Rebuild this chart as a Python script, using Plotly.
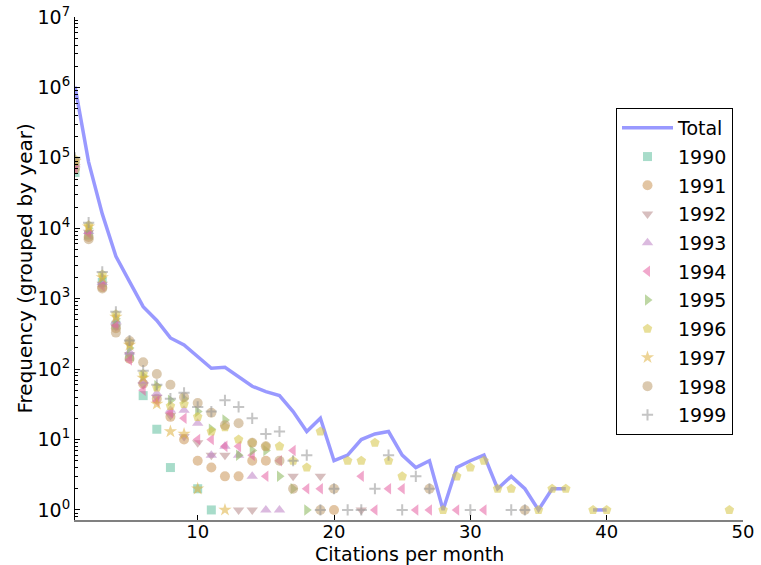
import plotly.graph_objects as go
import math

# ---------------- data ----------------
years = ["1990", "1991", "1992", "1993", "1994", "1995", "1996", "1997", "1998", "1999"]

total_x = list(range(1, 50))
total_y = [1030000, 87000, 16000, 4000, 1750, 770, 490, 277, 220, 150,
           103, 106, 77, 57, 48, 42, 25, 13, 20, 5,
           6, 10, 12, 13, 6, 4, 5, 1, 4, 5,
           6, 2, 3, 2, 1, 2, 2, None, 1, 1,
           None, None, None, None, None, None, None, None, 1]

x_1990 = [1, 2, 3, 4, 5, 6, 7, 8, 10, 11]
y_1990 = [62000, 8000, 1700, 420, 150, 42, 14, 4, 2, 1]

x_1991 = [1, 2, 3, 4, 5, 6, 7, 8, 9, 10, 11, 12, 13, 14, 15, 20]
y_1991 = [70000, 7500, 1450, 380, 140, 62, 38, 21, 10, 5, 4, 3, 3, 5, 5, 1]

x_1992 = [1, 2, 3, 4, 5, 6, 7, 8, 9, 10, 11, 12, 13, 14, 17, 19, 22]
y_1992 = [75000, 8800, 1600, 400, 160, 60, 40, 22, 11, 9, 6, 6, 1, 1, 3, 3, 1]

x_1993 = [1, 2, 3, 4, 5, 6, 7, 8, 9, 10, 11, 12, 13, 14, 15, 16]
y_1993 = [80000, 9000, 1700, 480, 175, 68, 45, 26, 26, 17, 6, 8, 6, 3, 1, 1]

x_1994 = [1, 2, 3, 4, 5, 6, 7, 8, 9, 10, 11, 12, 13, 14, 15, 16, 17, 18, 19,
          22, 23, 24, 25, 26, 27, 29, 31]
y_1994 = [72000, 8500, 1500, 420, 135, 50, 35, 24, 20, 10, 10, 8, 8, 6, 3, 5, 7, 2, 2,
          3, 1, 2, 2, 1, 1, 1, 1]

x_1995 = [1, 2, 3, 4, 5, 6, 7, 8, 9, 10, 11, 12, 13, 14, 15, 16, 17, 18]
y_1995 = [85000, 10000, 2000, 520, 200, 80, 58, 36, 38, 25, 14, 19, 6, 7, 7, 3, 2, 1]

x_1996 = [1, 2, 3, 4, 5, 6, 7, 8, 9, 10, 11, 12, 13, 14, 15, 16, 17, 18, 19,
          21, 22, 23, 24, 25, 28, 29, 30, 31, 32, 33, 35, 36, 37, 39, 40, 49]
y_1996 = [95000, 11000, 2200, 600, 240, 85, 55, 30, 32, 21, 13, 15, 10, 9, 8, 8, 5, 4, 13,
          5, 5, 9, 5, 3, 1, 3, 4, 5, 2, 2, 1, 2, 2, 1, 1, 1]

x_1997 = [1, 2, 3, 4, 5, 6, 7, 8, 9, 10, 12]
y_1997 = [90000, 10500, 2000, 550, 220, 75, 32, 13, 12, 2, 1]

x_1998 = [1, 2, 3, 4, 5, 6, 7, 8, 9, 10, 11, 12, 13, 14, 15, 16, 17, 19, 20, 27, 34]
y_1998 = [88000, 7000, 1400, 330, 250, 125, 85, 60, 40, 33, 24, 16, 17, 9, 8, 5, 2, 1, 2, 2, 1]

x_1999 = [1, 2, 3, 4, 5, 6, 7, 8, 9, 10, 11, 12, 13, 14, 15, 16, 17, 18, 19, 20,
          21, 22, 23, 24, 25, 26, 27, 30, 33, 34]
y_1999 = [100000, 12000, 2400, 650, 255, 95, 60, 38, 46, 29, 25, 36, 29, 20, 12, 13, 5, 6, 1, 2,
          1, 1, 2, 6, 1, 3, 2, 1, 1, 1]

year_x = [x_1990, x_1991, x_1992, x_1993, x_1994, x_1995, x_1996, x_1997, x_1998, x_1999]
year_y = [y_1990, y_1991, y_1992, y_1993, y_1994, y_1995, y_1996, y_1997, y_1998, y_1999]

x_title = "Citations per month"
y_title = "Frequency (grouped by year)"

# ---------------- style ----------------
colors = ["#61c09e", "#cb9657", "#b78989", "#be82c5", "#e661a3",
          "#89b75a", "#d5c546", "#dfb13f", "#be9d6e", "#969696"]
symbols = ["square", "circle", "triangle-down", "triangle-up", "triangle-left",
           "triangle-right", "pentagon", "star", "circle", "cross-thin"]
sizes = [9, 10, 10, 10, 10, 10, 10, 10, 10, 8]

FONT = "DejaVu Sans"

fig = go.Figure()
fig.add_trace(go.Scatter(
    x=total_x, y=total_y, mode="lines", name="Total",
    line=dict(color="rgba(0,0,255,0.4)", width=3.5),
    connectgaps=False, legendgroup="t",
))
for i, yr in enumerate(years):
    sym = symbols[i]
    if sym == "cross-thin":
        marker = dict(symbol=sym, size=sizes[i], color=colors[i], opacity=0.55,
                      line=dict(color=colors[i], width=2))
    else:
        marker = dict(symbol=sym, size=sizes[i], color=colors[i], opacity=0.55,
                      line=dict(width=0))
    fig.add_trace(go.Scatter(x=year_x[i], y=year_y[i], mode="markers", name=yr,
                             marker=marker, legendgroup=yr))

ymin = math.log10(0.72)
tickvals = [10 ** k for k in range(0, 8)]
ticktext = ["10<sup>%d</sup>" % k for k in range(0, 8)]

PL, PR, PT, PB = 75, 743, 17, 520
PW, PH = PR - PL, PB - PT

fig.update_layout(
    width=761, height=565,
    margin=dict(l=PL, r=761 - PR, t=PT, b=565 - PB),
    paper_bgcolor="white", plot_bgcolor="white",
    font=dict(family=FONT, size=19, color="black"),
    showlegend=True,
    legend=dict(
        x=(616 - PL) / PW, y=1 - (108 - PT) / PH, xanchor="left", yanchor="top",
        bordercolor="black", borderwidth=1, bgcolor="white",
        font=dict(family=FONT, size=19, color="black"),
        itemwidth=51, tracegroupgap=1, traceorder="grouped",
    ),
    xaxis=dict(
        range=[1, 50], showgrid=False, zeroline=False, automargin=False,
        tickvals=[10, 20, 30, 40, 50], ticks="inside", ticklen=5, tickcolor="black",
        showline=True, linecolor="#808080", linewidth=2,
        ticklabelstandoff=-6,
        tickfont=dict(family=FONT, size=18),
    ),
    yaxis=dict(
        type="log", range=[ymin, 7], showgrid=False, zeroline=False, automargin=False,
        tickvals=tickvals, ticktext=ticktext, ticks="inside", ticklen=5, tickcolor="black",
        showline=True, linecolor="black", linewidth=1,
        minor=dict(ticks="inside", ticklen=3, tickcolor="black", dtick="D1", showgrid=False),
        tickfont=dict(family=FONT, size=19),
    ),
    annotations=[
        dict(text=x_title, xref="paper", yref="paper", x=0.5, y=(PB - 554) / PH,
             xanchor="center", yanchor="middle", showarrow=False,
             font=dict(family=FONT, size=19, color="black")),
        dict(text=y_title, xref="paper", yref="paper", x=(24 - PL) / PW, y=0.5,
             xanchor="center", yanchor="middle", showarrow=False, textangle=-90,
             font=dict(family=FONT, size=20, color="black")),
    ],
)

fig.write_html("out.html")
